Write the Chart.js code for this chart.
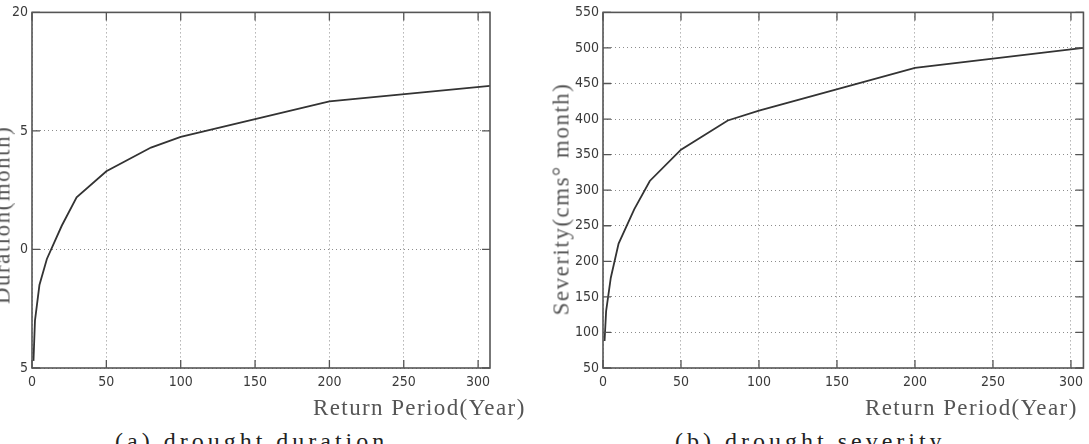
<!DOCTYPE html>
<html>
<head>
<meta charset="utf-8">
<script src="https://cdn.jsdelivr.net/npm/chart.js@4/dist/chart.umd.min.js"></script>
<style>
  html, body { margin: 0; padding: 0; background: #fff; }
  body { width: 1089px; height: 444px; overflow: hidden; position: relative; }
  .wrap { position: absolute; top: 0; height: 400px; }
  .ttl { position: absolute; font-family: 'Liberation Serif', 'DejaVu Serif', serif; color: #555; white-space: nowrap; }
  .xt { font-size: 23px; line-height: 23px; letter-spacing: 1.4px; }
  .yt { font-size: 23px; line-height: 23px; letter-spacing: 1.5px; transform: translate(-50%, -50%) rotate(-90deg); }
  .cap { font-size: 24px; line-height: 24px; letter-spacing: 4px; color: #222; }
</style>
</head>
<body>
<div class="wrap" style="left:0;width:545px;"><canvas id="c1"></canvas></div>
<div class="wrap" style="left:545px;width:544px;"><canvas id="c2"></canvas></div>

<div class="ttl yt" style="left:2px;top:215px;">Duration(month)</div>
<div class="ttl yt" style="left:561px;top:199px;">Severity(cms° month)</div>
<div class="ttl xt" style="left:313px;top:396px;">Return Period(Year)</div>
<div class="ttl xt" style="left:865px;top:396px;">Return Period(Year)</div>
<div class="ttl cap" style="left:115px;top:429px;">(a) drought duration</div>
<div class="ttl cap" style="left:675px;top:429px;">(b) drought severity</div>

<script>
// ---- data ----
const returnPeriods = [1, 2, 5, 10, 20, 30, 50, 80, 100, 200, 308];
const durationValues = [5.3, 7.0, 8.5, 9.6, 11.0, 12.2, 13.3, 14.3, 14.75, 16.25, 16.9];
const severityValues = [88, 130, 177, 225, 273, 313, 357, 398, 412, 472, 500];

const xTickValues = [0, 50, 100, 150, 200, 250, 300];
const durationTickValues = [5, 10, 15, 20];
const durationTickLabels = ['5', '0', '5', '20'];   // as printed (leading digits lost in the original)
const severityTickValues = [50, 100, 150, 200, 250, 300, 350, 400, 450, 500, 550];

const tickFont = { family: "'Liberation Sans Narrow', 'DejaVu Sans Condensed', 'Roboto Condensed', sans-serif", size: 14 };
const gridStyle = { color: '#8c8c8c', lineWidth: 1, drawTicks: false };

// frame + inward tick marks (MATLAB style)
const boxPlugin = {
  id: 'box',
  afterDraw(chart) {
    const { ctx, chartArea: a, scales } = chart;
    ctx.save();
    ctx.strokeStyle = '#555';
    ctx.lineWidth = 1.6;
    ctx.setLineDash([]);
    ctx.strokeRect(a.left, a.top, a.right - a.left, a.bottom - a.top);
    ctx.lineWidth = 1.3;
    const L = 8;
    scales.x.ticks.forEach(t => {
      const px = scales.x.getPixelForValue(t.value);
      ctx.beginPath();
      ctx.moveTo(px, a.bottom); ctx.lineTo(px, a.bottom - L);
      ctx.moveTo(px, a.top); ctx.lineTo(px, a.top + L);
      ctx.stroke();
    });
    scales.y.ticks.forEach(t => {
      const py = scales.y.getPixelForValue(t.value);
      ctx.beginPath();
      ctx.moveTo(a.left, py); ctx.lineTo(a.left + L, py);
      ctx.moveTo(a.right, py); ctx.lineTo(a.right - L, py);
      ctx.stroke();
    });
    ctx.restore();
  }
};

function makeChart(id, values, yMin, yMax, yTickVals, yLabelFn, yWidth, pad) {
  const pts = returnPeriods.map((x, i) => ({ x, y: values[i] }));
  return new Chart(document.getElementById(id), {
    type: 'line',
    data: { datasets: [{ data: pts, borderColor: '#333', borderWidth: 1.8, pointRadius: 0, tension: 0, fill: false }] },
    options: {
      responsive: true,
      maintainAspectRatio: false,
      animation: false,
      layout: { padding: pad },
      plugins: { legend: { display: false }, tooltip: { enabled: false } },
      scales: {
        x: {
          type: 'linear', min: 0, max: 308,
          border: { display: false, dash: [1, 3] },
          grid: gridStyle,
          afterBuildTicks: s => { s.ticks = xTickValues.map(v => ({ value: v })); },
          afterFit: s => { s.height = 32; },
          ticks: { font: tickFont, color: '#3a3a3a', padding: 6, maxRotation: 0, callback: v => String(v) }
        },
        y: {
          type: 'linear', min: yMin, max: yMax,
          border: { display: false, dash: [1, 3] },
          grid: gridStyle,
          afterBuildTicks: s => { s.ticks = yTickVals.map(v => ({ value: v })); },
          afterFit: s => { s.width = yWidth; },
          ticks: { font: tickFont, color: '#3a3a3a', padding: 4, callback: yLabelFn }
        }
      }
    },
    plugins: [boxPlugin]
  });
}

makeChart('c1', durationValues, 5, 20, durationTickValues,
  v => durationTickLabels[durationTickValues.indexOf(v)], 32,
  { top: 10, right: 55, left: 0, bottom: 0 });

makeChart('c2', severityValues, 50, 550, severityTickValues,
  v => String(v), 58,
  { top: 8, right: 1, left: 0, bottom: 0 });
</script>
</body>
</html>
